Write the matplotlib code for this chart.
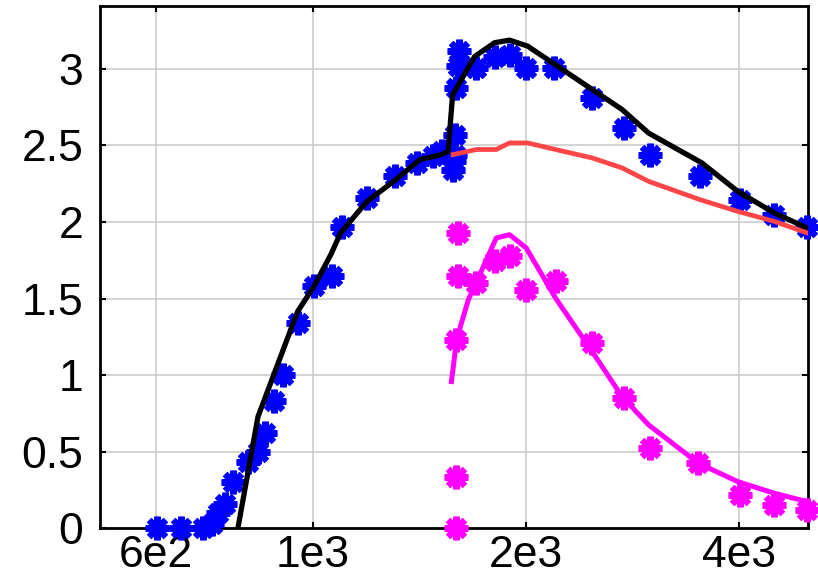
import matplotlib
matplotlib.use("Agg")
import matplotlib.pyplot as plt

plt.rcParams['font.family'] = ['Liberation Sans', 'DejaVu Sans']

# measured points (blue), rising branch and high branch
x_meas = [601, 650, 700, 719, 735, 750, 771, 809, 836, 854, 882, 906, 951,
          1003, 1065, 1099, 1192, 1306, 1401, 1478, 1519, 1585, 1577, 1580,
          1585, 1590, 1600, 1605,
          1701, 1804, 1894, 2000, 2190, 2478, 2746, 2992, 3517, 4002, 4480, 4989]
y_meas = [0.0, 0.0, 0.0, 0.03, 0.10, 0.16, 0.30, 0.435, 0.50, 0.62, 0.83, 1.0, 1.34,
          1.58, 1.645, 1.97, 2.157, 2.30, 2.385, 2.43, 2.46, 2.44, 2.34, 2.40,
          2.57, 2.876, 3.017, 3.115,
          3.006, 3.08, 3.09, 3.006, 3.006, 2.81, 2.614, 2.44, 2.298, 2.146, 2.048, 1.97]

# measured points (magenta)
x_meas2 = [1590, 1590, 1590, 1600, 1600, 1701, 1804, 1894, 2000, 2200,
           2478, 2746, 2992, 3500, 4002, 4480, 4989]
y_meas2 = [0.0, 0.337, 1.231, 1.644, 1.928, 1.60, 1.743, 1.775, 1.557, 1.612,
           1.209, 0.85, 0.523, 0.425, 0.218, 0.152, 0.12]

# model curves
x_total = [783, 836, 951, 1003, 1059, 1094, 1192, 1299, 1415, 1519, 1551, 1574,
           1691, 1804, 1894, 2009, 2478, 2731, 2978, 3539, 3978, 4480, 4989]
y_total = [0.0, 0.73, 1.416, 1.58, 1.786, 1.93, 2.135, 2.265, 2.407, 2.44, 2.46, 2.83,
           3.08, 3.17, 3.187, 3.148, 2.865, 2.734, 2.58, 2.386, 2.2, 2.059, 1.96]

x_low = [1577, 1701, 1814, 1894, 2009, 2200, 2478, 2731, 2978, 3517, 3978, 4480, 4989]
y_low = [2.44, 2.473, 2.473, 2.516, 2.516, 2.473, 2.418, 2.353, 2.265, 2.146, 2.069, 2.004, 1.928]

x_high = [1568, 1580, 1594, 1656, 1814, 1894, 2000, 2200, 2478, 2731, 2978, 3500, 3978, 4480, 4989]
y_high = [0.958, 1.078, 1.23, 1.49, 1.895, 1.917, 1.83, 1.503, 1.154, 0.86, 0.675, 0.425, 0.305, 0.229, 0.174]

xticks = [600, 1000, 2000, 4000]
xticklabels = ['6e2', '1e3', '2e3', '4e3']
yticks = [0, 0.5, 1, 1.5, 2, 2.5, 3]
yticklabels = ['0', '0.5', '1', '1.5', '2', '2.5', '3']

fig = plt.figure(figsize=(8.18, 5.8), dpi=100)
ax = fig.add_axes([0.1222, 0.0891, 0.8656, 0.9006])

star = (8, 2, 0)
ax.plot(x_meas, y_meas, linestyle='none', marker=star, markersize=17,
        markeredgewidth=4.6, color='#0000ff', clip_on=False, zorder=3)
ax.plot(x_meas2, y_meas2, linestyle='none', marker=star, markersize=17,
        markeredgewidth=4.6, color='#ff00ff', clip_on=False, zorder=3)
ax.plot(x_total, y_total, color='black', lw=3.8, zorder=4)
ax.plot(x_low, y_low, color='#ff4545', lw=3.4, zorder=4)
ax.plot(x_high, y_high, color='#ff00ff', lw=3.6, zorder=4)

ax.set_xscale('log')
ax.set_xlim(500, 5000)
ax.set_ylim(0, 3.41)
ax.set_xticks(xticks)
ax.set_xticklabels(xticklabels)
ax.minorticks_off()
ax.set_yticks(yticks)
ax.set_yticklabels(yticklabels)
ax.grid(True, color='#c8c8c8', lw=1.1)
ax.set_axisbelow(True)
ax.tick_params(direction='in', length=4, width=1.5, labelsize=32, top=True, right=True)
ax.tick_params(axis='x', pad=5)
ax.tick_params(axis='y', pad=12)
for s in ax.spines.values():
    s.set_linewidth(2)

fig.savefig('out.png', dpi=100)
